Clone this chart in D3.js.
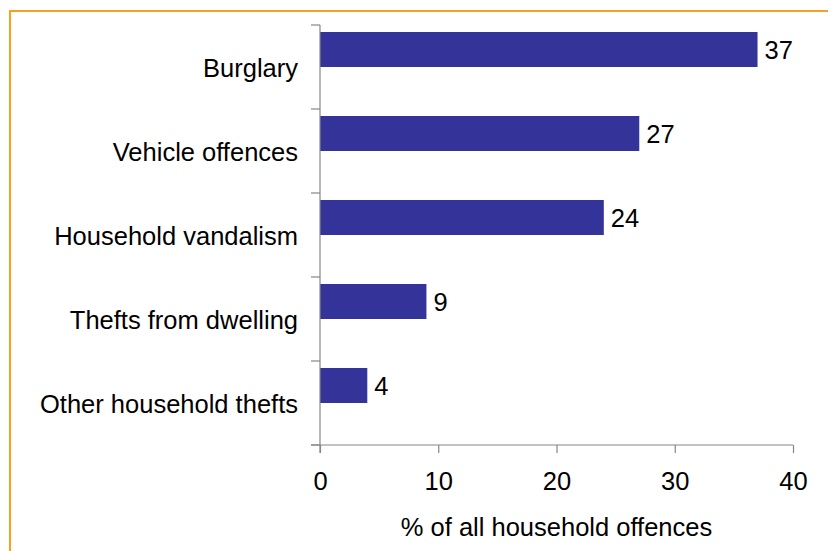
<!DOCTYPE html>
<html>
<head>
<meta charset="utf-8">
<script src="https://cdn.jsdelivr.net/npm/d3@7"></script>
<style>
  html, body { margin: 0; padding: 0; background: #fff; }
  svg { display: block; }
  text { font-family: "Liberation Sans", Arial, sans-serif; fill: #000; }
</style>
</head>
<body>
<svg id="chart" width="828" height="551"></svg>
<script>
// Share of household offences by type (%)
const categories = ["Burglary", "Vehicle offences", "Household vandalism", "Thefts from dwelling", "Other household thefts"];
const values = [37, 27, 24, 9, 4];
const xTicks = [0, 10, 20, 30, 40];
const xTitle = "% of all household offences";

const W = 828, H = 551;
const margin = { top: 25, right: 35, bottom: 106, left: 320 };
const fontSize = 25.5;
const axisColor = "#868686";
const barColor = "#333399";

const svg = d3.select("#chart");

// Frame around the figure
svg.append("rect")
  .attr("x", 10).attr("y", 11)
  .attr("width", W + 20).attr("height", H + 20)
  .attr("fill", "none")
  .attr("stroke", "#F9A11B")
  .attr("stroke-width", 2);

const x = d3.scaleLinear()
  .domain([0, 40])
  .range([margin.left, W - margin.right]);

const y = d3.scaleBand()
  .domain(categories)
  .range([margin.top, H - margin.bottom])
  .paddingInner(0).paddingOuter(0);

// Each band holds two slots; the bar sits in the upper one
const slot = d3.scaleBand()
  .domain(["bar", "empty"])
  .range([0, y.bandwidth()])
  .paddingInner(0).paddingOuter(0.2);

// Bars
svg.append("g")
  .selectAll("rect")
  .data(categories)
  .join("rect")
  .attr("x", x(0))
  .attr("y", (d) => y(d) + slot("bar"))
  .attr("width", (d, i) => x(values[i]) - x(0))
  .attr("height", slot.bandwidth())
  .attr("fill", barColor);

// Value labels
svg.append("g")
  .selectAll("text")
  .data(categories)
  .join("text")
  .attr("x", (d, i) => x(values[i]) + 7)
  .attr("y", (d) => y(d) + slot("bar") + slot.bandwidth() / 2)
  .attr("dy", "0.36em")
  .attr("font-size", fontSize)
  .text((d, i) => values[i]);

// Y axis: category boundaries as ticks
const yAxis = svg.append("g");
yAxis.append("line")
  .attr("x1", x(0)).attr("x2", x(0))
  .attr("y1", margin.top).attr("y2", H - margin.bottom + 8)
  .attr("stroke", axisColor).attr("stroke-width", 1.2);
const bounds = categories.map((d) => y(d)).concat([y.range()[1]]);
yAxis.selectAll("line.tick")
  .data(bounds)
  .join("line")
  .attr("class", "tick")
  .attr("x1", x(0) - 9).attr("x2", x(0))
  .attr("y1", (d) => d).attr("y2", (d) => d)
  .attr("stroke", axisColor).attr("stroke-width", 1.2);
yAxis.selectAll("text")
  .data(categories)
  .join("text")
  .attr("x", x(0) - 22)
  .attr("y", (d) => y(d) + y.bandwidth() / 2 + 1)
  .attr("dy", "0.36em")
  .attr("text-anchor", "end")
  .attr("font-size", fontSize)
  .text((d) => d);

// X axis
const xAxis = svg.append("g")
  .attr("transform", `translate(0,${H - margin.bottom})`)
  .call(d3.axisBottom(x).tickValues(xTicks).tickSize(8).tickPadding(19).tickSizeOuter(0));
xAxis.select(".domain").attr("stroke", axisColor).attr("stroke-width", 1.2)
  .attr("d", `M${x(0) - 9},0H${x(40)}`);
xAxis.selectAll(".tick line").attr("stroke", axisColor).attr("stroke-width", 1.2);
xAxis.selectAll(".tick text")
  .attr("font-size", fontSize)
  .attr("font-family", "Liberation Sans, Arial, sans-serif")
  .attr("fill", "#000");

// X axis title
svg.append("text")
  .attr("x", (x(0) + x(40)) / 2)
  .attr("y", 536)
  .attr("text-anchor", "middle")
  .attr("font-size", fontSize)
  .text(xTitle);
</script>
</body>
</html>
